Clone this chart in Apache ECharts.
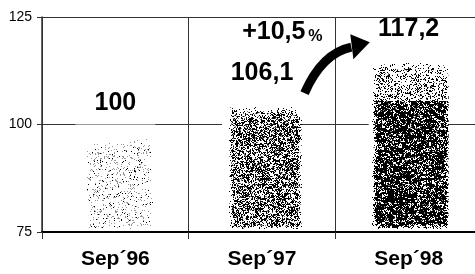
<!DOCTYPE html>
<html><head><meta charset="utf-8">
<script src="https://cdn.jsdelivr.net/npm/echarts@6/dist/echarts.min.js"></script>
<style>html,body{margin:0;padding:0;background:#fff}#c{width:475px;height:274px}</style>
</head><body><div id="c"></div>
<script>
// ---- data ----
const categories = ['Sep´96', 'Sep´97', 'Sep´98'];
const values = [100, 106.1, 117.2];
const valueLabels = ['100', '106,1', '117,2'];
const yMin = 75, yMax = 125, yStep = 25;
const changeText = '+10,5';
const changeUnit = '%';

// ---- styles ----
const FONT = '"Liberation Sans", Arial, sans-serif';
const labelDist = [9, 13, 9];
// stipple texture per bar (pixel style settings)
const tex = [
  {shift: 3.5, hw: 31.5, start: 14, ramp: 14, upperLen: 0, upperDens: 0, dens: 0.13, gray: 0.75, grayLevel: 150},
  {shift: 3,   hw: 35,   start: 8,  ramp: 14, upperLen: 0, upperDens: 0, dens: 0.55, gray: 0.15, grayLevel: 120},
  {shift: 2,   hw: 37,   start: 10, ramp: 12, upperLen: 40, upperDens: 0.28, dens: 0.8, gray: 0.08, grayLevel: 120}
];
// arrow annotation in (category position, value) space
const arrowTail = [1.29, 107.3], arrowCtrl = [1.41, 116.6], arrowEnd = [1.609, 118.0];
const arrowHead = [[1.602, 121.0], [1.735, 119.1], [1.623, 115.2]];
const changePos = [0.865, 119.6];

const chart = echarts.init(document.getElementById('c'), null, {renderer: 'canvas'});
const option = {
  animation: false,
  grid: {left: 42, top: 17, width: 440, bottom: 42, containLabel: false, outerBoundsMode: 'none'},
  xAxis: {
    type: 'category', data: categories, boundaryGap: true,
    axisLine: {lineStyle: {color: '#000', width: 2}},
    axisTick: {show: true, length: 7, lineStyle: {color: '#333'}},
    axisLabel: {fontFamily: FONT, fontSize: 21, fontWeight: 'bold', color: '#000', margin: 17},
    splitLine: {show: true, lineStyle: {color: '#333', width: 1}}
  },
  yAxis: {
    type: 'value', min: yMin, max: yMax, interval: yStep,
    axisLine: {show: true, lineStyle: {color: '#333', width: 1.5}},
    axisTick: {show: true, length: 5, lineStyle: {color: '#333'}},
    axisLabel: {fontFamily: FONT, fontSize: 14, color: '#000', margin: 10},
    splitLine: {show: true, lineStyle: {color: '#333', width: 1.2}}
  },
  series: [{
    type: 'bar', data: values, barWidth: 80,
    itemStyle: {color: 'rgba(0,0,0,0)'},
    label: {show: true, position: 'top', distance: 9,
      formatter: p => valueLabels[p.dataIndex],
      fontFamily: FONT, fontSize: 25, fontWeight: 'bold', color: '#000'}
  }]
};
chart.setOption(option);

function hash(x, y, s) {
  const h = Math.sin(x * 127.1 + y * 311.7 + s * 74.7) * 43758.5453;
  return h - Math.floor(h);
}
const W = 475, H = 274;
const cv = document.createElement('canvas');
cv.width = W; cv.height = H;
const ctx = cv.getContext('2d');
const img = ctx.createImageData(W, H);
const px = img.data;
const yBottom = chart.convertToPixel({gridIndex: 0}, [0, yMin])[1];
values.forEach((v, i) => {
  const [cx, top] = chart.convertToPixel({gridIndex: 0}, [i, v]);
  const t = tex[i];
  const xl = cx + t.shift - t.hw, xr = cx + t.shift + t.hw;
  const yb = yBottom - 5;
  for (let y = Math.floor(top); y < yBottom - 1; y++) {
    for (let x = Math.floor(cx - 40); x <= Math.ceil(cx + 40); x++) {
      if (x < 0 || x >= W || y < 0 || y >= H) continue;
      const k = (y * W + x) * 4;
      let c = 255;
      const off = y - top;
      if (off >= t.start) {
        const r = Math.min(1, (off - t.start) / t.ramp);
        let d = (t.upperLen && off < t.start + t.upperLen) ? t.upperDens : t.dens;
        d *= r;
        const dx = Math.min(x - xl, xr - x);
        const ef = Math.max(0, Math.min(1, (dx + 2) / 5));
        const ef2 = Math.max(0, Math.min(1, (yb - y + 2) / 5));
        const clump = 0.55 + 0.9 * hash(Math.floor(x / 3), Math.floor(y / 2), 7 + i);
        const p = d * ef * ef2 * clump;
        if (hash(x, y, i) < p) c = hash(x, y, 20 + i) < t.gray ? t.grayLevel : 0;
      }
      px[k] = c; px[k + 1] = c; px[k + 2] = c; px[k + 3] = 255;
    }
  }
});
ctx.putImageData(img, 0, 0);

const p0 = chart.convertToPixel({gridIndex: 0}, [0, yMin]);
const p1 = chart.convertToPixel({gridIndex: 0}, [1, yMin]);
const catW = p1[0] - p0[0];
function pt(c, v) {
  const y = chart.convertToPixel({gridIndex: 0}, [0, v])[1];
  return [p0[0] + c * catW, y];
}
const a0 = pt(...arrowTail), a1 = pt(...arrowCtrl), a2 = pt(...arrowEnd);
const cp = pt(...changePos);

chart.setOption({
  series: [{
    data: values.map((v, i) => ({value: v,
      itemStyle: {color: {image: cv, repeat: 'no-repeat'}},
      label: {distance: labelDist[i]}}))
  }],
  graphic: [
    {type: 'bezierCurve', shape: {x1: a0[0], y1: a0[1], cpx1: a1[0], cpy1: a1[1], x2: a2[0], y2: a2[1]},
     style: {stroke: '#000', lineWidth: 9, fill: null}, z: 10},
    {type: 'polygon', shape: {points: arrowHead.map(q => pt(...q))}, style: {fill: '#000'}, z: 10},
    {type: 'text', x: cp[0], y: cp[1] + 4, z: 10,
     style: {text: changeText, fontFamily: FONT, fontSize: 25, fontWeight: 'bold', fill: '#000',
             align: 'left', verticalAlign: 'bottom', textAlign: 'left', textVerticalAlign: 'bottom'}},
    {type: 'text', x: cp[0] + 66, y: cp[1] + 4, z: 10,
     style: {text: changeUnit, fontFamily: FONT, fontSize: 16, fontWeight: 'bold', fill: '#000',
             align: 'left', verticalAlign: 'bottom', textAlign: 'left', textVerticalAlign: 'bottom'}}
  ]
});
</script>
</body></html>
